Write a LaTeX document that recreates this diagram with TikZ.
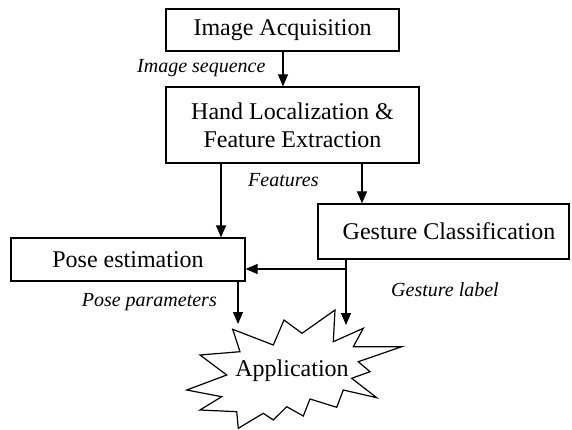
\documentclass[tikz,border=0pt]{standalone}
\usepackage{fontspec}
\setmainfont{Liberation Serif}
\usetikzlibrary{arrows.meta}
\tikzset{
  boxnode/.style={draw=black, line width=1.2pt, fill=white, inner sep=0pt, align=center,
    font=\fontsize{24}{28}\selectfont},
  lbl/.style={inner sep=0pt, font=\fontsize{20}{24}\selectfont\itshape},
  arr/.style={line width=1.2pt, -{Triangle[length=12pt, width=10pt]}},
  plainline/.style={line width=1.2pt}
}
\begin{document}
\begin{tikzpicture}[x=1pt, y=-1pt]
\useasboundingbox (0,0) rectangle (572,430);
% boxes
\node[boxnode, minimum width=233pt, minimum height=42pt] (ia) at (282.5,30) {Image Acquisition};
\node[boxnode, minimum width=253pt, minimum height=76pt] (hand) at (292.5,125) {Hand Localization \&\\Feature Extraction};
\node[boxnode, minimum width=234pt, minimum height=43pt] (pose) at (128,259.5) {Pose estimation};
\node[boxnode, minimum width=251pt, minimum height=55pt] (gest) at (443.5,231.5) {\hspace*{11pt}Gesture Classification};
% starburst
\draw[plainline, fill=white] (232.7,329.3) -- (273.3,345) -- (284,320) -- (302,333.3) -- (335,310)
  -- (333.3,341.7) -- (363.3,328.3) -- (353.3,346.7) -- (401.7,346.7) -- (358.3,361.7)
  -- (370,371.7) -- (351.7,378.3) -- (376.7,397.7) -- (343.3,390) -- (336.7,407.3)
  -- (310,399) -- (303.3,416) -- (286.7,406.7) -- (273.3,420) -- (263.3,413.3)
  -- (238.3,428.3) -- (236.7,411.7) -- (200,410) -- (221.7,396.7) -- (186.7,390)
  -- (226.7,375) -- (200,355) -- (240,351.7) -- cycle;
\node[inner sep=0pt, anchor=base, font=\fontsize{24}{28}\selectfont] (app) at (292,376) {Application};
\coordinate (appL) at (238,324);
\coordinate (appR) at (346,325);
% connectors
\draw[arr] (283,0 |- ia.south) -- (283,0 |- hand.north);
\draw[arr] (221,0 |- hand.south) -- (221,0 |- pose.north);
\draw[arr] (362,0 |- hand.south) -- (362,0 |- gest.north);
\draw[arr] (346,0 |- gest.south) |- (pose.east |- 0,269);
\draw[arr] (346,0 |- gest.south) -- (appR);
\draw[arr] (238,0 |- pose.south) -- (appL);
% labels
\node[lbl, anchor=base west] (l1) at (137,73) {Image sequence};
\node[lbl, anchor=base west] (l2) at (248,187) {Features};
\node[lbl, anchor=base east] (l3) at (217,306) {Pose parameters};
\node[lbl, anchor=base west] (l4) at (391,296) {Gesture label};
\end{tikzpicture}
\end{document}
